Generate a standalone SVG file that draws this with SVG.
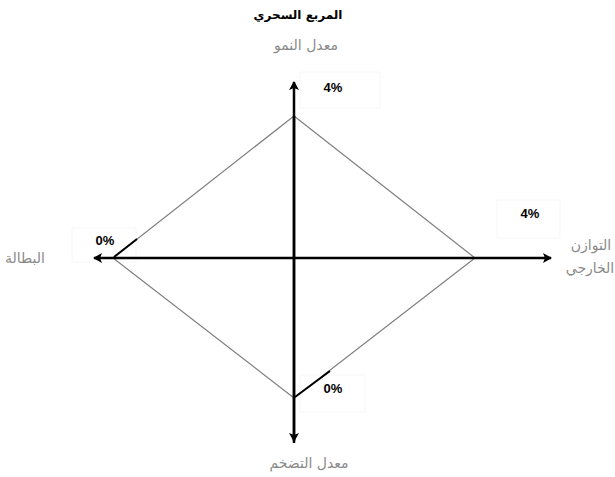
<svg xmlns="http://www.w3.org/2000/svg" width="615" height="477" viewBox="0 0 615 477">
<style>
.axis{stroke:#000;stroke-width:2.5;fill:none}
.dia{stroke:#7f7f7f;stroke-width:1.2;fill:none}
.hl{stroke:#000;stroke-width:2;fill:none}
.box{fill:none;stroke:#f7f7f7;stroke-width:1}
.lab{font-family:"DejaVu Sans",sans-serif;font-size:14px;fill:#8a8a8a;text-anchor:middle}
.pct{font-family:"Liberation Sans",sans-serif;font-size:13px;font-weight:bold;fill:#000;text-anchor:middle}
.title{font-family:"DejaVu Sans",sans-serif;font-size:12px;font-weight:bold;fill:#000;text-anchor:middle}
</style>
<defs>
<marker id="ah" markerWidth="10" markerHeight="10" refX="8" refY="5" orient="auto" markerUnits="userSpaceOnUse">
<path d="M0,0 L9,5 L0,10 L2,5 Z" fill="#000"/>
</marker>
</defs>
<rect width="615" height="477" fill="#fff"/>
<g id="boxes">
<rect class="box" x="300" y="72" width="80" height="36"/>
<rect class="box" x="72" y="228" width="64" height="34"/>
<rect class="box" x="497" y="200" width="63" height="38"/>
<rect class="box" x="300" y="375" width="65" height="37"/>
</g>
<g id="diamond">
<polygon class="dia" points="294,116 475,258 294,398 113,258"/>
<line class="hl" x1="114" y1="257" x2="137" y2="239"/>
<line class="hl" x1="295" y1="397" x2="330" y2="371"/>
</g>
<g id="connectors">
<line class="axis" x1="294" y1="443" x2="294" y2="82" marker-end="url(#ah)"/>
<line class="axis" x1="294" y1="116" x2="294" y2="441" marker-end="url(#ah)"/>
<line class="axis" x1="294" y1="258" x2="94" y2="258" marker-end="url(#ah)"/>
<line class="axis" x1="294" y1="258" x2="551" y2="258" marker-end="url(#ah)"/>
</g>
<g id="title"><text class="title" x="298" y="19">المربع السحري</text></g>
<g id="growth"><text class="lab" x="306" y="50">معدل النمو</text><text class="pct" x="333" y="92">4%</text></g>
<g id="unemployment"><text class="lab" x="25" y="263">البطالة</text><text class="pct" x="105" y="245">0%</text></g>
<g id="balance"><text class="lab" x="591" y="250">التوازن</text><text class="lab" x="590" y="273">الخارجي</text><text class="pct" x="530" y="218">4%</text></g>
<g id="inflation"><text class="lab" x="309" y="468">معدل التضخم</text><text class="pct" x="333" y="393">0%</text></g>
</svg>
